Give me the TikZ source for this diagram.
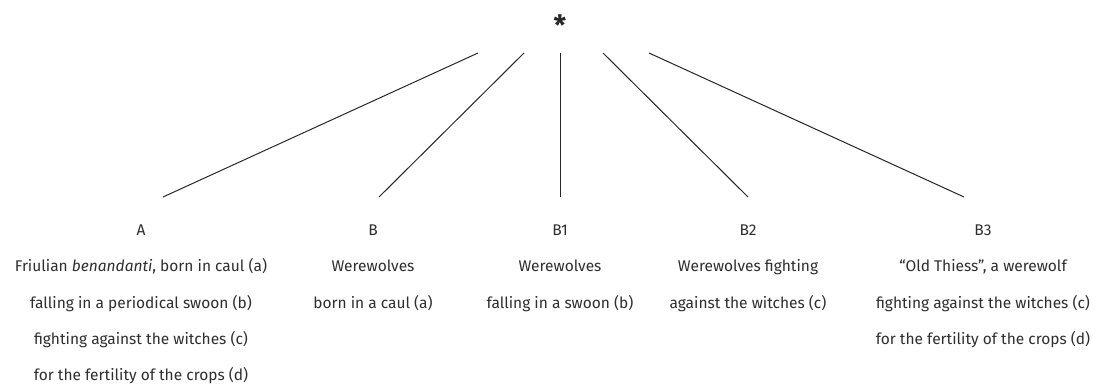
\documentclass[tikz,border=0pt]{standalone}
\usepackage{fontspec}
\setmainfont{Fira Sans}
\definecolor{txt}{HTML}{2E2E2E}
\begin{document}
\begin{tikzpicture}[x=1pt,y=-1pt,
  lbl/.style={anchor=base, inner sep=0pt, font=\fontsize{15.5}{18}\selectfont, text=txt},
  edge/.style={line width=1pt, draw=black!85}]
\useasboundingbox (0,0) rectangle (1102,387);
\node[anchor=north, inner sep=0pt, font=\bfseries\fontsize{28}{28}\selectfont, text=black!85] (root) at (560,15) {*};
% line ends
\coordinate (t1) at (478,53); \coordinate (b1) at (163,197);
\coordinate (t2) at (524,53); \coordinate (b2) at (379,197);
\coordinate (t3) at (560,53); \coordinate (b3) at (560,197);
\coordinate (t4) at (603,53); \coordinate (b4) at (748,197);
\coordinate (t5) at (649,53); \coordinate (b5) at (964,197);
\foreach \i in {1,...,5} \draw[edge] (t\i) -- (b\i);
% column A
\node[lbl] (lA) at (141,236) {A};
\node[lbl] (A1) at (141,272) {Friulian \emph{benandanti}, born in caul (a)};
\node[lbl] (A2) at (141,308) {falling in a periodical swoon (b)};
\node[lbl] (A3) at (141,344) {fighting against the witches (c)};
\node[lbl] (A4) at (141,380) {for the fertility of the crops (d)};
% column B
\node[lbl] (lB) at (373,236) {B};
\node[lbl] (B1a) at (373,272) {Werewolves};
\node[lbl] (B1b) at (373,308) {born in a caul (a)};
% column B1
\node[lbl] (lB1) at (560,236) {B1};
\node[lbl] (C1) at (560,272) {Werewolves};
\node[lbl] (C2) at (560,308) {falling in a swoon (b)};
% column B2
\node[lbl] (lB2) at (748,236) {B2};
\node[lbl] (D1) at (748,272) {Werewolves fighting};
\node[lbl] (D2) at (748,308) {against the witches (c)};
% column B3
\node[lbl] (lB3) at (983,236) {B3};
\node[lbl] (E1) at (983,272) {“Old Thiess”, a werewolf};
\node[lbl] (E2) at (983,308) {fighting against the witches (c)};
\node[lbl] (E3) at (983,344) {for the fertility of the crops (d)};
\end{tikzpicture}
\end{document}
